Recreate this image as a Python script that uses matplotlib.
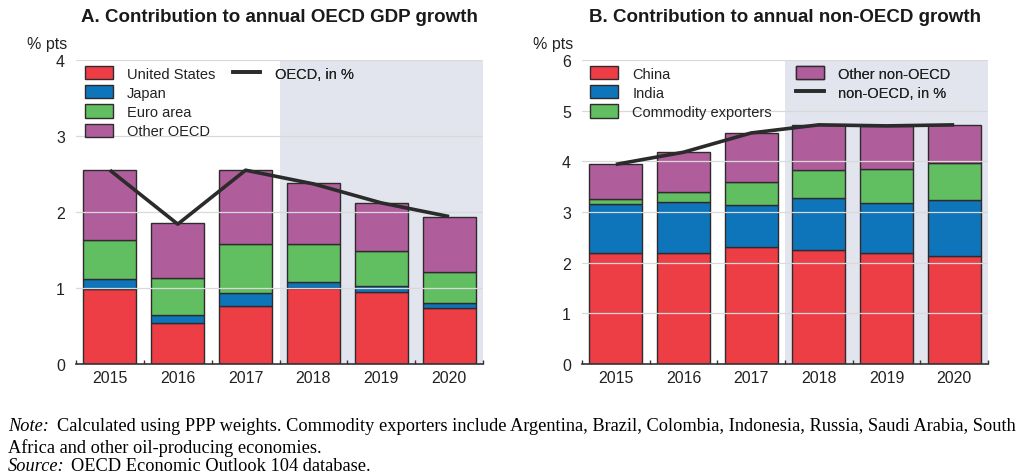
import matplotlib
matplotlib.use("Agg")
import matplotlib.pyplot as plt
import numpy as np
from matplotlib.patches import Patch
from matplotlib.lines import Line2D

years = ["2015", "2016", "2017", "2018", "2019", "2020"]

# Panel A: contributions to OECD GDP growth (% pts)
us = [0.99, 0.54, 0.76, 1.00, 0.945, 0.74]
japan = [0.13, 0.10, 0.18, 0.08, 0.085, 0.06]
euro = [0.515, 0.49, 0.64, 0.50, 0.46, 0.41]
other_oecd = [0.915, 0.72, 0.97, 0.80, 0.63, 0.73]
oecd_total = [2.55, 1.84, 2.55, 2.37, 2.12, 1.94]

# Panel B: contributions to non-OECD growth (% pts)
china = [2.195, 2.19, 2.31, 2.25, 2.195, 2.13]
india = [0.965, 1.01, 0.82, 1.03, 0.985, 1.11]
commodity = [0.10, 0.19, 0.46, 0.55, 0.66, 0.72]
other_non = [0.68, 0.80, 0.97, 0.88, 0.86, 0.75]
non_oecd_total = [3.94, 4.18, 4.56, 4.72, 4.70, 4.72]

RED = "#ee3e45"
BLUE = "#0e75ba"
GREEN = "#61bf61"
PURPLE = "#b05e9b"
SHADE = "#e2e5ee"
GRID = "#d9d9d9"
EDGE = "#2e2a2d"

plt.rcParams['font.family'] = ['Liberation Sans', 'DejaVu Sans']

fig = plt.figure(figsize=(10.24, 4.77), dpi=100)
axA = fig.add_axes([76/1024, 1-365/477, 407/1024, 304/477])
axB = fig.add_axes([582/1024, 1-365/477, 406/1024, 304/477])


def draw(ax, series, colors, total, ymax, title, leg_specs):
    x = np.arange(len(years))
    ax.axvspan(2.5, 5.5, color=SHADE, zorder=0, lw=0)
    bottom = np.zeros(len(years))
    for vals, col in zip(series, colors):
        ax.bar(x, vals, bottom=bottom, width=0.78, color=col, edgecolor=EDGE,
               linewidth=1.0, zorder=2)
        bottom += np.array(vals)
    for yv in range(1, ymax + 1):
        ax.axhline(yv, color=GRID, lw=0.9, zorder=3)
    ax.plot(x, total, color="#2b2b2b", lw=2.6, zorder=4, solid_capstyle='butt')
    ax.set_xlim(-0.5, 5.5)
    ax.set_ylim(0, ymax)
    ax.set_yticks(range(0, ymax + 1))
    ax.set_xticks(x)
    ax.set_xticklabels(years)
    ax.set_xticks(np.arange(-0.5, 6.0, 1.0), minor=True)
    ax.tick_params(axis='x', which='major', length=0, labelsize=11.5, pad=4,
                   colors="#222222")
    ax.tick_params(axis='x', which='minor', length=3, direction='in', width=1,
                   color="#333333")
    ax.tick_params(axis='y', length=0, labelsize=11.5, pad=8, colors="#222222")
    for s in ['top', 'right', 'left']:
        ax.spines[s].set_visible(False)
    ax.spines['bottom'].set_color("#333333")
    ax.spines['bottom'].set_linewidth(1.2)
    ax.set_title(title, fontsize=13.5, fontweight='bold', pad=28, color="#1a1a1a")
    ax.text(-0.12, 1.03, "% pts", transform=ax.transAxes, fontsize=11.5,
            ha='left', va='bottom', color="#222222")
    for (handles, lbls, loc) in leg_specs:
        leg = ax.legend(handles, lbls, loc='upper left', bbox_to_anchor=loc,
                        frameon=False, fontsize=10.5, handlelength=1.9,
                        handleheight=1.0, handletextpad=1.0, labelspacing=0.32,
                        borderaxespad=0, borderpad=0)
        for t in leg.get_texts():
            t.set_color("#222222")
        ax.add_artist(leg)


def patch(c):
    return Patch(facecolor=c, edgecolor=EDGE, linewidth=1.0)


def line_h():
    return Line2D([0], [0], color="#2b2b2b", lw=2.6)


draw(axA, [us, japan, euro, other_oecd], [RED, BLUE, GREEN, PURPLE],
     oecd_total, 4,
     "A. Contribution to annual OECD GDP growth",
     [([patch(RED), patch(BLUE), patch(GREEN), patch(PURPLE)],
       ["United States", "Japan", "Euro area", "Other OECD"], (0.022, 0.98)),
      ([line_h()], ["OECD, in %"], (0.385, 0.98))])

draw(axB, [china, india, commodity, other_non], [RED, BLUE, GREEN, PURPLE],
     non_oecd_total, 6,
     "B. Contribution to annual non-OECD growth",
     [([patch(RED), patch(BLUE), patch(GREEN)],
       ["China", "India", "Commodity exporters"], (0.02, 0.98)),
      ([patch(PURPLE), line_h()], ["Other non-OECD", "non-OECD, in %"], (0.527, 0.98))])

serif = ['Liberation Serif', 'DejaVu Serif']
FS = 13.2
fig.text(0.008, 1-427/477, "Note:", fontsize=FS, family=serif, style='italic', va='center')
fig.text(0.056, 1-427/477,
         "Calculated using PPP weights. Commodity exporters include Argentina, Brazil, Colombia, Indonesia, Russia, Saudi Arabia, South",
         fontsize=FS, family=serif, va='center')
fig.text(0.008, 1-448/477, "Africa and other oil-producing economies.", fontsize=FS,
         family=serif, va='center')
fig.text(0.008, 1-467/477, "Source:", fontsize=FS, family=serif, style='italic', va='center')
fig.text(0.069, 1-467/477, "OECD Economic Outlook 104 database.", fontsize=FS,
         family=serif, va='center')

fig.savefig("out.png", dpi=100, facecolor="white")
